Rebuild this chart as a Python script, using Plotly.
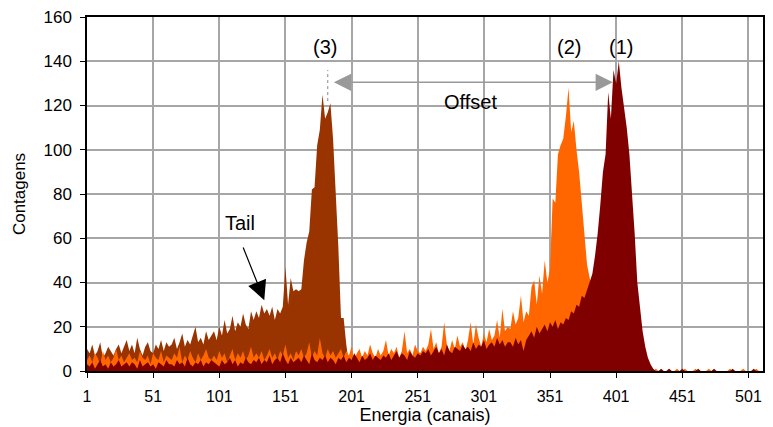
import plotly.graph_objects as go

# Channel numbers (every second channel of the 512-channel spectrum)
canais = list(range(1, 512, 2))

# Spectrum (3): peak near channel 180 with low-energy tail
contagens_3 = [
    10, 8, 12, 7, 9, 13, 6, 8, 11, 9, 7, 10, 12, 8, 11, 14,
    9, 12, 8, 15, 10, 7, 11, 13, 9, 8, 12, 10, 14, 9, 13, 11,
    12, 15, 10, 13, 17, 11, 14, 12, 16, 20, 13, 15, 12, 18, 14, 16,
    18, 14, 20, 16, 23, 17, 19, 25, 18, 22, 20, 26, 21, 19, 27, 23,
    27, 24, 30, 26, 28, 25, 29, 23, 28, 26, 29, 47, 30, 42, 36, 37,
    36, 37, 50, 58, 63, 82, 83, 102, 109, 125, 114, 117, 121, 105, 83, 56,
    24, 24, 12, 3, 2, 1, 2, 0, 1, 0, 0, 0, 0, 0, 0, 0,
    0, 0, 0, 0, 0, 0, 0, 0, 0, 0, 0, 0, 0, 0, 0, 0,
    0, 0, 0, 0, 0, 0, 0, 0, 0, 0, 0, 0, 0, 0, 0, 0,
    0, 0, 0, 0, 0, 0, 0, 0, 0, 0, 0, 0, 0, 0, 0, 0,
    0, 0, 0, 0, 0, 0, 0, 0, 0, 0, 0, 0, 0, 0, 0, 0,
    0, 0, 0, 0, 0, 0, 0, 0, 0, 0, 0, 0, 0, 0, 0, 0,
    0, 0, 0, 0, 0, 0, 0, 0, 0, 0, 0, 0, 0, 0, 0, 0,
    0, 0, 0, 0, 0, 0, 0, 0, 0, 0, 0, 0, 0, 0, 0, 0,
    0, 0, 0, 0, 0, 0, 0, 0, 0, 0, 0, 0, 0, 0, 0, 0,
    0, 0, 0, 0, 0, 0, 0, 0, 0, 0, 0, 0, 0, 0, 0, 0,
]

# Spectrum (2): peak near channel 364
contagens_2 = [
    5, 7, 4, 8, 6, 3, 9, 5, 7, 4, 6, 10, 5, 7, 4, 6,
    8, 5, 6, 4, 9, 6, 5, 7, 3, 8, 6, 5, 9, 4, 7, 6,
    5, 8, 6, 11, 4, 7, 5, 9, 6, 4, 8, 5, 7, 10, 6, 5,
    7, 5, 9, 6, 8, 4, 7, 10, 5, 8, 6, 9, 5, 7, 11, 6,
    8, 6, 9, 5, 7, 10, 6, 8, 5, 9, 7, 12, 6, 8, 5, 9,
    7, 10, 6, 8, 13, 6, 9, 7, 15, 8, 6, 10, 7, 9, 6, 8,
    10, 6, 9, 7, 11, 5, 8, 10, 6, 9, 7, 12, 8, 6, 10, 7,
    9, 14, 7, 10, 8, 11, 6, 9, 18, 8, 10, 7, 12, 9, 8, 11,
    9, 12, 19, 10, 13, 8, 11, 22, 12, 9, 14, 10, 16, 11, 13, 9,
    14, 22, 12, 21, 15, 11, 17, 13, 19, 14, 16, 23, 15, 28, 18, 20,
    19, 27, 21, 24, 34, 22, 27, 25, 38, 41, 30, 43, 35, 50, 40, 46,
    78, 76, 98, 102, 105, 115, 128, 108, 113, 100, 90, 76, 62, 48, 42, 36,
    30, 25, 20, 17, 14, 12, 10, 8, 7, 6, 5, 4, 3, 3, 2, 2,
    2, 1, 1, 0, 1, 0, 0, 1, 0, 0, 0, 0, 1, 0, 0, 1,
    0, 0, 1, 0, 0, 0, 1, 0, 0, 0, 0, 1, 0, 0, 0, 0,
    0, 0, 0, 1, 0, 0, 0, 0, 1, 0, 0, 0, 0, 1, 0, 0,
]

# Spectrum (1): peak near channel 403
contagens_1 = [
    3, 2, 4, 1, 3, 5, 2, 3, 1, 4, 2, 3, 5, 2, 3, 4,
    2, 4, 3, 1, 5, 2, 3, 4, 2, 3, 1, 4, 3, 2, 5, 3,
    3, 2, 5, 3, 4, 2, 6, 3, 2, 4, 3, 5, 2, 4, 3, 5,
    4, 3, 2, 5, 3, 4, 6, 3, 5, 2, 4, 3, 6, 4, 3, 5,
    4, 6, 3, 5, 4, 7, 3, 5, 6, 4, 8, 5, 3, 6, 4, 5,
    6, 4, 7, 5, 3, 8, 5, 4, 6, 5, 7, 4, 6, 5, 3, 6,
    5, 7, 4, 6, 5, 8, 6, 4, 7, 5, 6, 8, 5, 7, 6, 5,
    7, 6, 8, 5, 7, 9, 6, 8, 7, 5, 9, 7, 6, 8, 7, 9,
    8, 10, 7, 9, 11, 8, 10, 7, 12, 9, 8, 11, 10, 9, 12, 10,
    11, 9, 13, 10, 12, 11, 14, 10, 12, 13, 11, 15, 12, 14, 11, 13,
    13, 11, 15, 12, 14, 9, 14, 16, 18, 15, 20, 17, 19, 21, 18, 22,
    20, 23, 19, 22, 21, 24, 23, 27, 26, 30, 29, 34, 33, 37, 40, 44,
    52, 62, 75, 90, 98, 126, 114, 136, 130, 140, 128, 120, 110, 98, 82, 62,
    40, 28, 18, 11, 6, 3, 1, 0, 0, 1, 0, 0, 1, 0, 0, 0,
    0, 1, 0, 0, 0, 0, 0, 1, 0, 0, 0, 0, 0, 1, 0, 0,
    0, 0, 0, 0, 1, 0, 0, 0, 0, 0, 0, 0, 1, 0, 0, 0,
]

x_ticks = [1, 51, 101, 151, 201, 251, 301, 351, 401, 451, 501]
y_ticks = [0, 20, 40, 60, 80, 100, 120, 140, 160]

FONT = "Arial, 'Liberation Sans', sans-serif"

fig = go.Figure()
for y, color, name in [
    (contagens_3, "#993300", "(3)"),
    (contagens_2, "#FF6600", "(2)"),
    (contagens_1, "#800000", "(1)"),
]:
    fig.add_trace(go.Scatter(
        x=canais, y=y, name=name, mode="lines",
        line=dict(width=0, color=color),
        fill="tozeroy", fillcolor=color,
        hoverinfo="skip", showlegend=False,
    ))

# Peak labels
for txt, xc in [("(3)", 181), ("(2)", 365.5), ("(1)", 404.5)]:
    fig.add_annotation(x=xc, y=146.5, text=txt, showarrow=False,
                       font=dict(family=FONT, size=20, color="black"))

# Dotted marker at peak (3)
fig.add_shape(type="line", x0=183, x1=183, y0=122, y1=136,
              line=dict(color="#888888", width=1, dash="dot"))

# Offset double arrow between peaks (3) and (1)
fig.add_annotation(x=398.5, y=130.5, ax=186.5, ay=130.5,
                   xref="x", yref="y", axref="x", ayref="y",
                   text="", showarrow=True, arrowside="end+start",
                   arrowhead=2, arrowsize=2.3, arrowwidth=1.5,
                   arrowcolor="#999999")
fig.add_annotation(x=291, y=121.5, text="Offset", showarrow=False,
                   font=dict(family=FONT, size=20, color="black"))

# Tail label and arrow
fig.add_annotation(x=117, y=67, text="Tail", showarrow=False,
                   font=dict(family=FONT, size=20, color="black"))
fig.add_annotation(x=135, y=32, ax=118.6, ay=56.5,
                   xref="x", yref="y", axref="x", ayref="y",
                   text="", showarrow=True, arrowhead=2,
                   arrowsize=3.2, arrowwidth=1.2, arrowcolor="black")

fig.update_layout(
    width=773, height=427,
    margin=dict(l=87, r=10, t=17, b=56),
    paper_bgcolor="white", plot_bgcolor="white",
    font=dict(family=FONT, size=16, color="black"),
)
fig.update_xaxes(
    range=[1, 512], tickvals=x_ticks, ticktext=[str(v) for v in x_ticks],
    automargin=False,
    showgrid=True, gridcolor="#a6a6a6", gridwidth=1.5,
    showline=True, linecolor="black", linewidth=1.5, mirror=True,
    ticks="outside", ticklen=5, tickcolor="black",
    tickfont=dict(size=16), ticklabelstandoff=5, zeroline=False,
    title=dict(text="Energia (canais)", font=dict(size=18), standoff=0),
)
fig.update_yaxes(
    range=[0, 160], tickvals=y_ticks,
    automargin=False,
    showgrid=True, gridcolor="#a6a6a6", gridwidth=1.5,
    showline=True, linecolor="black", linewidth=1.5, mirror=True,
    ticks="outside", ticklen=5, tickcolor="black",
    tickfont=dict(size=17), ticklabelstandoff=5, zeroline=False,
    title=dict(text="Contagens", font=dict(size=17), standoff=14),
)

fig.write_html("out.html")
